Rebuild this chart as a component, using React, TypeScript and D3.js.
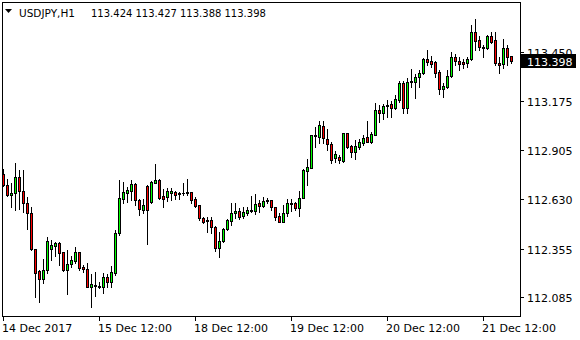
import React from "react";
import * as d3 from "d3";

const openV = [112.770,112.709,112.653,112.665,112.754,112.676,112.609,112.553,112.353,112.231,112.187,112.237,112.353,112.370,112.387,112.337,112.237,112.270,112.287,112.337,112.253,112.242,112.142,112.150,112.148,112.142,112.198,112.170,112.220,112.442,112.631,112.665,112.676,112.715,112.626,112.570,112.704,112.615,112.720,112.737,112.648,112.642,112.665,112.670,112.662,112.665,112.670,112.670,112.631,112.598,112.526,112.515,112.515,112.476,112.359,112.398,112.464,112.509,112.553,112.565,112.537,112.553,112.567,112.565,112.609,112.592,112.620,112.626,112.587,112.537,112.503,112.553,112.607,112.609,112.581,112.637,112.787,112.804,112.979,112.976,113.037,112.965,112.937,112.859,112.865,112.842,112.998,112.926,112.893,112.920,112.943,112.976,112.948,112.987,113.126,113.109,113.148,113.159,113.137,113.182,113.276,113.137,113.284,113.282,113.309,113.332,113.409,113.398,113.393,113.337,113.243,113.254,113.315,113.421,113.398,113.393,113.387,113.409,113.560,113.515,113.476,113.471,113.537,113.515,113.387,113.382,113.471,113.424];
const highV = [112.798,112.742,112.720,112.831,112.792,112.792,112.642,112.587,112.353,112.237,112.298,112.420,112.403,112.392,112.392,112.337,112.348,112.314,112.364,112.337,112.264,112.275,112.214,112.225,112.170,112.220,112.214,112.259,112.459,112.737,112.726,112.698,112.737,112.720,112.631,112.631,112.709,112.731,112.826,112.742,112.687,112.692,112.692,112.676,112.670,112.720,112.742,112.670,112.642,112.598,112.531,112.531,112.531,112.481,112.448,112.470,112.520,112.609,112.609,112.581,112.587,112.587,112.648,112.659,112.626,112.642,112.637,112.626,112.587,112.553,112.598,112.631,112.631,112.615,112.676,112.798,112.854,112.987,113.031,113.065,113.065,113.020,112.948,112.898,112.876,112.998,112.998,112.931,112.959,112.965,112.987,113.065,113.004,113.165,113.154,113.159,113.182,113.176,113.209,113.287,113.287,113.304,113.354,113.326,113.348,113.415,113.459,113.426,113.398,113.348,113.276,113.348,113.448,113.437,113.421,113.409,113.421,113.598,113.632,113.537,113.487,113.543,113.560,113.560,113.421,113.521,113.487,113.427];
const lowV = [112.704,112.648,112.587,112.570,112.576,112.559,112.464,112.348,112.087,112.059,112.164,112.220,112.292,112.314,112.264,112.231,112.103,112.253,112.275,112.237,112.225,112.142,112.031,112.092,112.137,112.109,112.142,112.142,112.209,112.431,112.609,112.615,112.626,112.598,112.542,112.553,112.381,112.609,112.720,112.631,112.587,112.620,112.626,112.631,112.631,112.653,112.653,112.609,112.587,112.515,112.498,112.448,112.442,112.342,112.309,112.392,112.459,112.487,112.526,112.520,112.526,112.542,112.559,112.548,112.559,112.587,112.609,112.570,112.515,112.503,112.503,112.537,112.565,112.570,112.537,112.637,112.709,112.804,112.920,112.943,112.943,112.904,112.831,112.837,112.831,112.837,112.915,112.865,112.854,112.909,112.931,112.948,112.943,112.987,113.059,113.076,113.087,113.087,113.132,113.170,113.109,113.109,113.254,113.193,113.254,113.326,113.376,113.365,113.309,113.215,113.198,113.248,113.309,113.376,113.348,113.359,113.365,113.404,113.459,113.459,113.421,113.465,113.498,113.376,113.332,113.359,113.376,113.388];
const closeV = [112.709,112.651,112.665,112.754,112.676,112.609,112.553,112.353,112.220,112.187,112.237,112.398,112.376,112.387,112.331,112.237,112.270,112.292,112.337,112.248,112.242,112.142,112.159,112.156,112.142,112.198,112.170,112.225,112.442,112.637,112.670,112.681,112.715,112.626,112.576,112.598,112.570,112.726,112.737,112.637,112.631,112.676,112.676,112.653,112.659,112.662,112.667,112.626,112.592,112.526,112.503,112.509,112.476,112.359,112.398,112.464,112.515,112.553,112.565,112.531,112.559,112.570,112.570,112.603,112.592,112.620,112.628,112.587,112.531,112.503,112.553,112.609,112.601,112.581,112.637,112.792,112.809,112.987,112.987,113.043,112.970,112.937,112.848,112.881,112.848,112.998,112.920,112.893,112.926,112.948,112.970,112.948,112.993,113.126,113.109,113.148,113.151,113.137,113.187,113.276,113.137,113.282,113.287,113.309,113.332,113.409,113.393,113.382,113.332,113.243,113.259,113.315,113.421,113.398,113.382,113.382,113.409,113.560,113.510,113.476,113.471,113.537,113.504,113.387,113.376,113.471,113.421,113.398];

const priceTicks = [113.450, 113.175, 112.905, 112.630, 112.355, 112.085];
const timeTickBars = [0, 24, 48, 72, 96, 120];
const timeTickLabels = ["14 Dec 2017", "15 Dec 12:00", "18 Dec 12:00", "19 Dec 12:00", "20 Dec 12:00", "21 Dec 12:00"];
const headerSymbol = "USDJPY,H1";
const headerPrices = ["113.424", "113.427", "113.388", "113.398"];
const currentPrice = 113.398;

const BULL = "#00ff00";
const BEAR = "#ff0000";
const FONT = "'DejaVu Sans', Verdana, sans-serif";

export default function App() {
  const n = openV.length;
  const x = d3.scaleLinear().domain([0, n - 1]).range([3, 3 + 4 * (n - 1)]);
  const y = d3.scaleLinear().domain([112.085, 113.45]).range([297.3, 51.7]);
  const py = (v: number) => Math.round(y(v));

  const candles = d3.range(n).map((i) => {
    const cx = Math.round(x(i));
    const yo = py(openV[i]);
    const yc = py(closeV[i]);
    const yh = py(highV[i]);
    const yl = py(lowV[i]);
    const top = Math.min(yo, yc);
    const bot = Math.max(yo, yc);
    const bull = closeV[i] >= openV[i];
    return (
      <g key={i}>
        <rect x={cx} y={yh} width={1} height={yl - yh + 1} fill="#000" />
        <rect x={cx - 1} y={top} width={3} height={bot - top + 1} fill="#000" />
        {bot - top >= 2 && (
          <rect x={cx} y={top + 1} width={1} height={bot - top - 1} fill={bull ? BULL : BEAR} />
        )}
      </g>
    );
  });

  const cpY = py(currentPrice);

  return (
    <svg
      width={580}
      height={340}
      style={{ position: "absolute", left: 0, top: 0, background: "#fff" }}
      shapeRendering="crispEdges"
    >
      <rect x={0} y={0} width={580} height={340} fill="#fff" />
      {/* frame */}
      <rect x={2} y={2} width={519} height={1} fill="#000" />
      <rect x={2} y={316} width={519} height={1} fill="#000" />
      <rect x={2} y={2} width={1} height={315} fill="#000" />
      <rect x={520} y={2} width={1} height={315} fill="#000" />
      {candles}
      {/* price axis */}
      {priceTicks.map((v) => {
        const ty = py(v);
        return (
          <g key={v}>
            <rect x={521} y={ty} width={3} height={1} fill="#000" />
            <text x={527} y={ty + 4.5} fontFamily={FONT} fontSize={11} fill="#000">
              {v.toFixed(3)}
            </text>
          </g>
        );
      })}
      <rect x={521} y={cpY - 7} width={55} height={14} fill="#000" />
      <text x={527} y={cpY + 4.5} fontFamily={FONT} fontSize={11} fill="#fff">
        {currentPrice.toFixed(3)}
      </text>
      {/* time axis */}
      {timeTickBars.map((b, k) => {
        const tx = Math.round(x(b));
        return (
          <g key={b}>
            <rect x={tx} y={317} width={1} height={4} fill="#000" />
            <text x={tx - 1} y={332} fontFamily={FONT} fontSize={11} fill="#000">
              {timeTickLabels[k]}
            </text>
          </g>
        );
      })}
      {/* header */}
      <polygon points="5,9 12,9 8.5,13" fill="#000" shapeRendering="auto" />
      <text x={19} y={17} fontFamily={FONT} fontSize={10.5} fill="#000">
        {headerSymbol}
      </text>
      {headerPrices.map((p, k) => (
        <text key={k} x={91 + 44.5 * k} y={17} fontFamily={FONT} fontSize={10} fill="#000">
          {p}
        </text>
      ))}
    </svg>
  );
}
